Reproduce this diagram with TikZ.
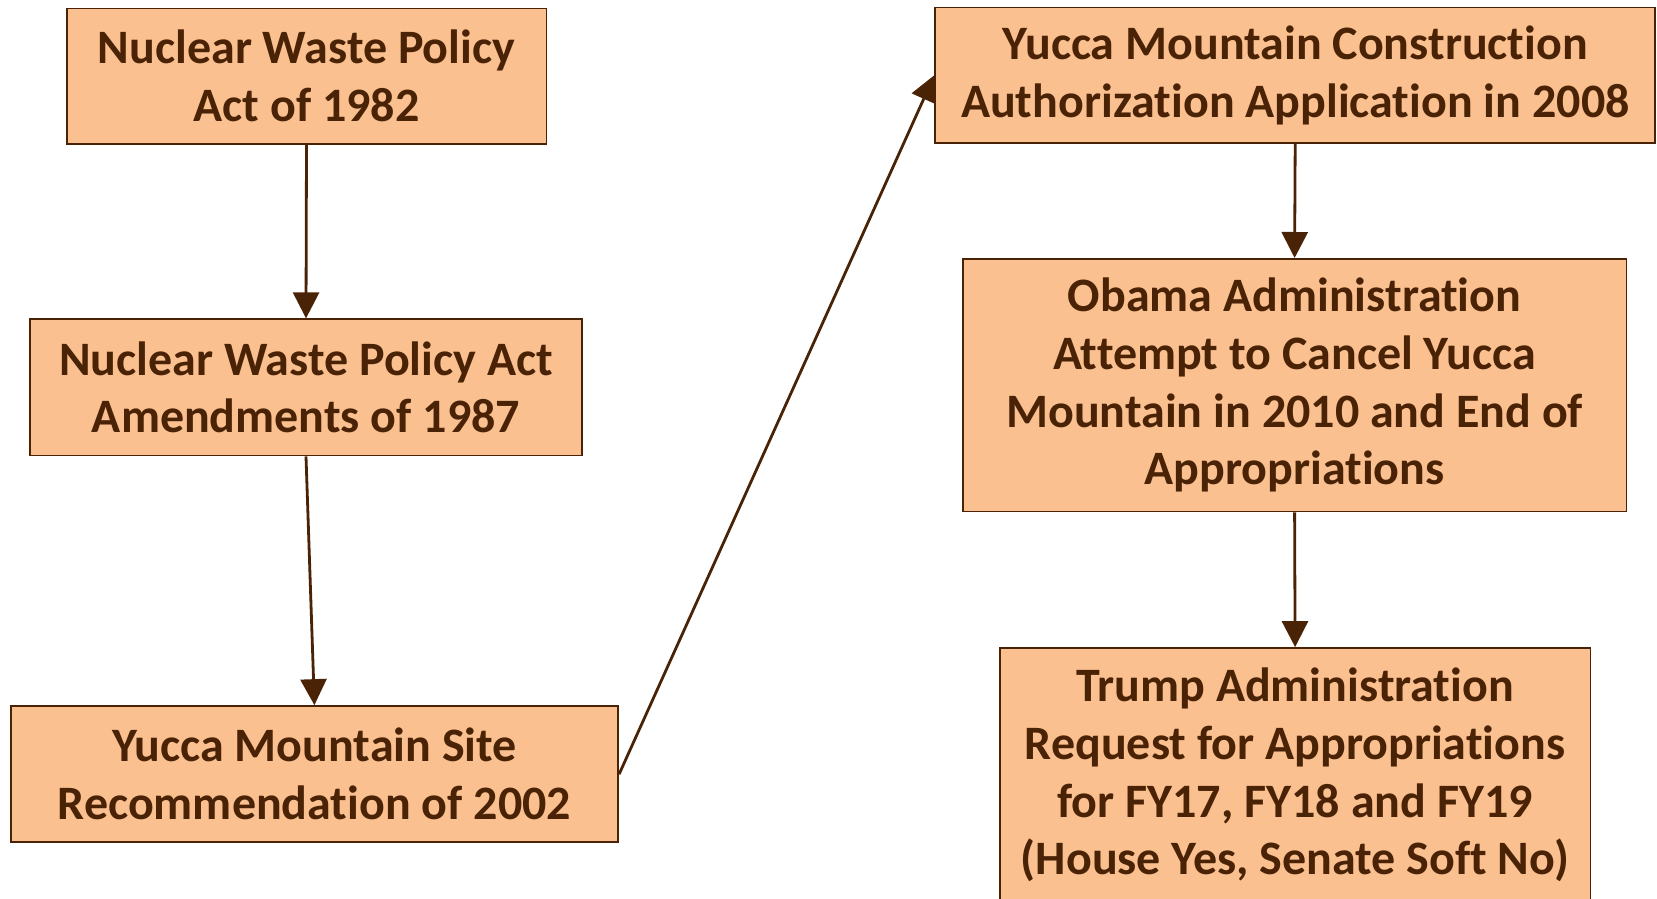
\documentclass[tikz,border=0pt]{standalone}
\usepackage{fontspec}
\setmainfont[Ligatures=NoCommon]{Carlito}
\usepackage{tikz}
\usetikzlibrary{arrows.meta,backgrounds}
\definecolor{boxfill}{HTML}{FAC090}
\definecolor{boxline}{HTML}{4A2306}
\tikzset{
    event box/.style={
        draw=boxline, line width=1.8pt, fill=boxfill,
        text=boxline, align=center, inner sep=0pt,
        font=\fontsize{48}{57.8}\selectfont\bfseries
    },
    flow arrow/.style={
        draw=boxline, line width=2.8pt,
        -{Triangle[length=26pt,width=26pt]}
    },
}

\begin{document}
\begin{tikzpicture}[x=1pt,y=-1pt]
\useasboundingbox (0,0) rectangle (1657,898);
\clip (0,0) rectangle (1657,898);

% left column
\node[event box, minimum width=479.8pt, minimum height=135.2pt] (nwpa) at (306.5,76.1)
    {Nuclear Waste Policy\\Act of 1982};
\node[event box, minimum width=552.7pt, minimum height=136.3pt] (amend) at (306,387.4)
    {Nuclear Waste Policy Act\\Amendments of 1987};
\node[event box, minimum width=607.6pt, minimum height=136.3pt] (site) at (314.4,774.2)
    {Yucca Mountain Site\\Recommendation of 2002};

% right column
\node[event box, minimum width=719.7pt, minimum height=135.3pt] (license) at (1295.2,75.1)
    {Yucca Mountain Construction\\Authorization Application in 2008};
\node[event box, minimum width=663.6pt, minimum height=252.6pt] (obama) at (1294.6,385.2)
    {Obama Administration\\Attempt to Cancel Yucca\\Mountain in 2010 and End of\\Appropriations};
\node[event box, minimum width=590.8pt, minimum height=254pt] (trump) at (1295.1,775)
    {Trump Administration\\Request for Appropriations\\for FY17, FY18 and FY19\\(House Yes, Senate Soft No)};

\begin{scope}[on background layer]
\draw[flow arrow] (nwpa.south) -- (amend.north);
\draw[flow arrow] (amend.south) -- (site.north);
\draw[flow arrow] (site.east) -- (license.west);
\draw[flow arrow] (license.south) -- (obama.north);
\draw[flow arrow] (obama.south) -- (trump.north);
\end{scope}
\end{tikzpicture}
\end{document}
